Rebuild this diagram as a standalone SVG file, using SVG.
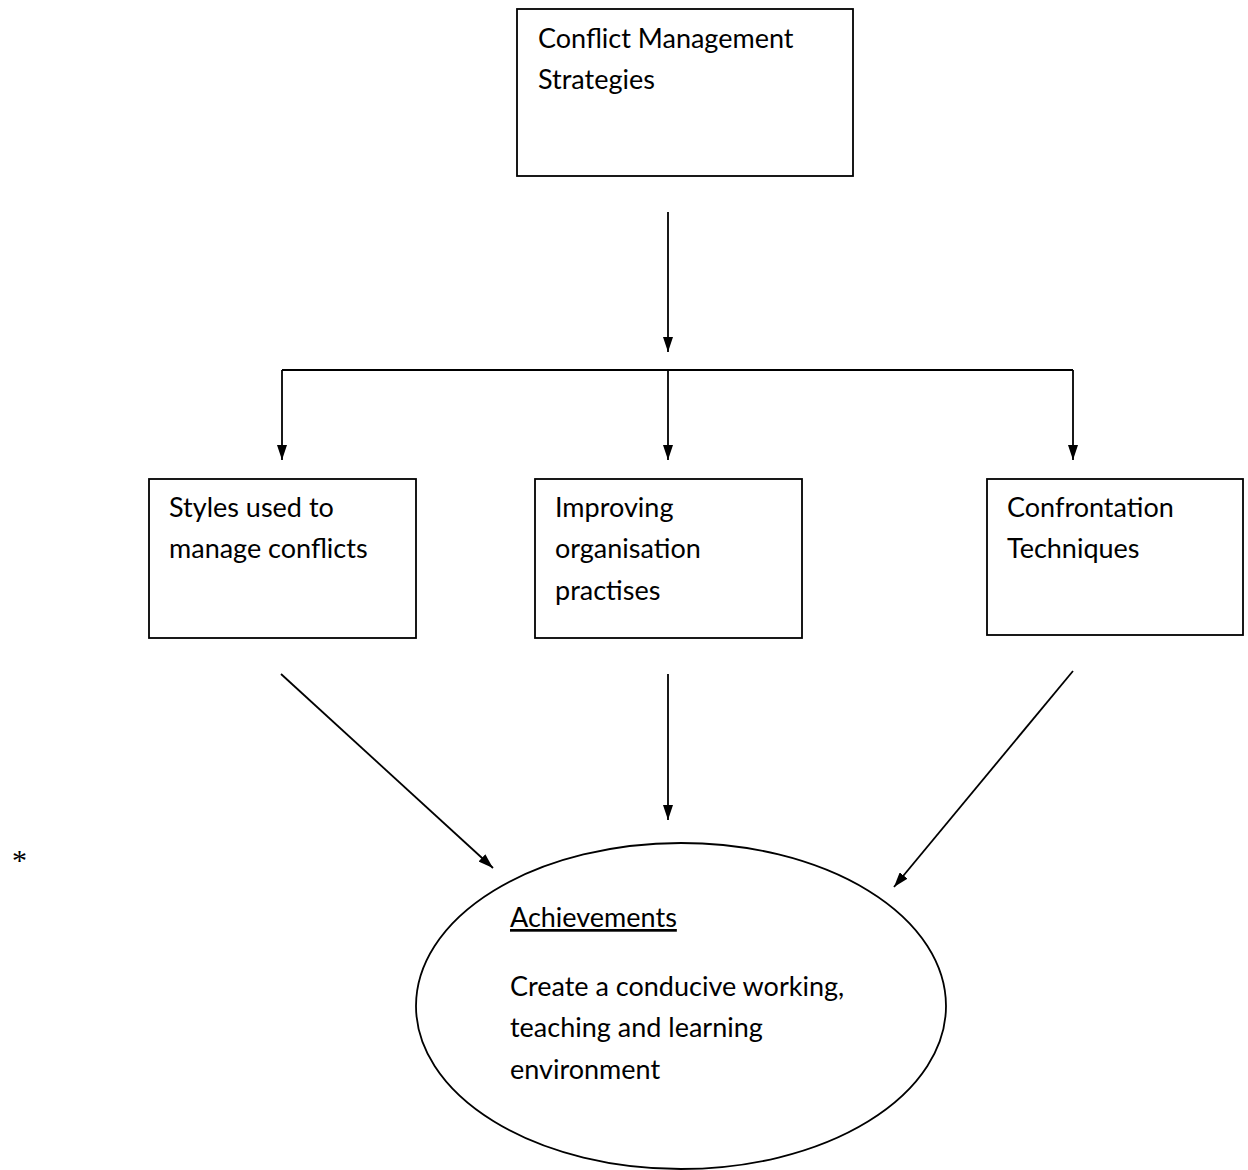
<svg xmlns="http://www.w3.org/2000/svg" width="1248" height="1170" viewBox="0 0 1248 1170">
<defs>
<marker id="ah" viewBox="0 0 15 10" refX="15" refY="5" markerWidth="15" markerHeight="10" markerUnits="userSpaceOnUse" orient="auto">
<path d="M0,0 L15,5 L0,10 z" fill="#000"/>
</marker>
</defs>
<style>
.box{fill:#fff;stroke:#000;stroke-width:1.8}
.t{font-family:Lato,"Open Sans","Liberation Sans",sans-serif;font-size:27px;fill:#000}
.c{stroke:#000;stroke-width:1.8;fill:none}
.a{stroke:#000;stroke-width:1.8;fill:none;marker-end:url(#ah)}
</style>
<rect width="1248" height="1170" fill="#fff"/>
<g id="connectors">
<line class="a" x1="668" y1="212" x2="668" y2="352"/>
<polyline class="c" points="282,370 1073,370"/>
<line class="a" x1="282" y1="370" x2="282" y2="460"/>
<line class="a" x1="668" y1="370" x2="668" y2="460"/>
<line class="a" x1="1073" y1="370" x2="1073" y2="460"/>
<line class="a" x1="281" y1="674" x2="493" y2="868"/>
<line class="a" x1="668" y1="674" x2="668" y2="820"/>
<line class="a" x1="1073" y1="671" x2="894" y2="887"/>
</g>
<g id="node-strategies">
<rect class="box" x="517" y="9" width="336" height="167"/>
<text class="t" x="538" y="48">Conflict Management</text>
<text class="t" x="538" y="89">Strategies</text>
</g>
<g id="node-styles">
<rect class="box" x="149" y="479" width="267" height="159"/>
<text class="t" x="169" y="517">Styles used to</text>
<text class="t" x="169" y="558">manage conflicts</text>
</g>
<g id="node-improving">
<rect class="box" x="535" y="479" width="267" height="159"/>
<text class="t" x="555" y="517">Improving</text>
<text class="t" x="555" y="558">organisation</text>
<text class="t" x="555" y="600">practises</text>
</g>
<g id="node-confrontation">
<rect class="box" x="987" y="479" width="256" height="156"/>
<text class="t" x="1007" y="517">Confrontation</text>
<text class="t" x="1007" y="558">Techniques</text>
</g>
<g id="node-achievements">
<ellipse class="box" cx="681" cy="1006" rx="265" ry="163"/>
<text class="t" x="510" y="927" text-decoration="underline">Achievements</text>
<text class="t" x="510" y="996">Create a conducive working,</text>
<text class="t" x="510" y="1037">teaching and learning</text>
<text class="t" x="510" y="1079">environment</text>
</g>
<text x="12" y="870" style="font-family:'Liberation Serif',serif;font-size:30px">*</text>
</svg>
